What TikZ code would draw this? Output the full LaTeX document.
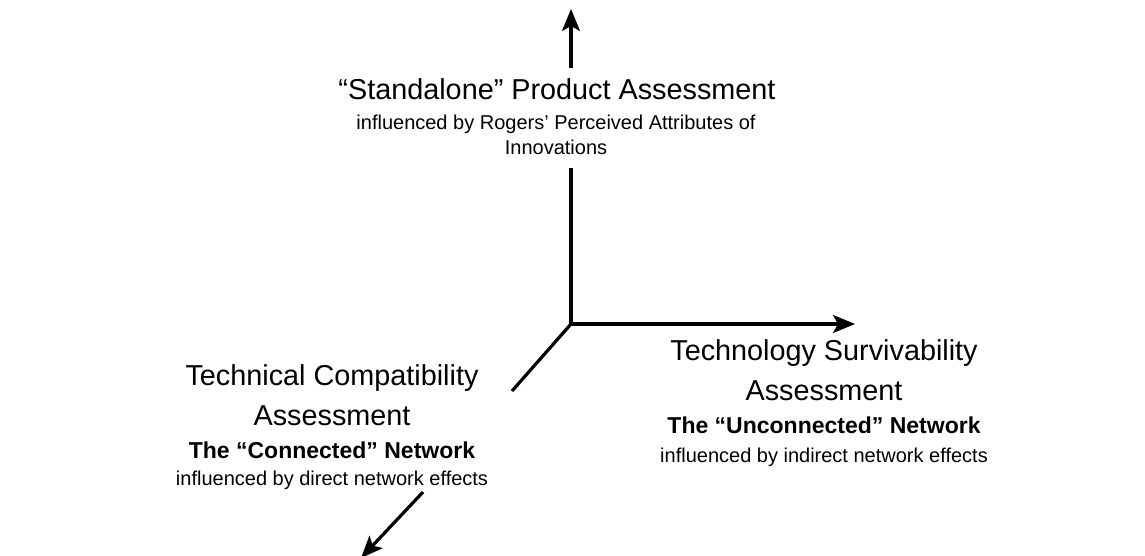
\documentclass[tikz,border=0pt]{standalone}
\usepackage{fontspec}
\setmainfont{Liberation Sans}
\usetikzlibrary{arrows.meta,positioning}

\tikzset{
  axis/.style={line width=1.6pt},
  axisarrow/.style={axis,-{Stealth[length=11pt,width=9pt,inset=2.5pt]}},
  headline/.style={anchor=base,inner sep=0pt,font=\fontsize{14.4}{17}\selectfont},
  netline/.style={anchor=base,inner sep=0pt,font=\bfseries\fontsize{11.5}{14}\selectfont},
  noteline/.style={anchor=base,inner sep=0pt,font=\fontsize{10}{12}\selectfont},
}

\begin{document}
\begin{tikzpicture}[x=0.5pt,y=-0.5pt]
\useasboundingbox (0,0) rectangle (1145,556);

% axis end points
\coordinate (origin) at (571,324);
\coordinate (ytop) at (571,9);
\coordinate (ylow) at (571,68);
\coordinate (yhigh) at (571,168);
\coordinate (xtip) at (855,324);
\coordinate (zhigh) at (512,391);
\coordinate (zlow) at (423,492);
\coordinate (ztip) at (361,558);

% "standalone" block
\node[headline] (stand) at (557,100) {“Standalone” Product Assessment};
\node[noteline] (standnote) at (556,130) {influenced by Rogers' Perceived Attributes of};
\node[noteline] (standnote2) at (556,155) {Innovations};

% compatibility block
\node[headline] (compat) at (332,385) {Technical Compatibility};
\node[headline] (compat2) at (332,425) {Assessment};
\node[netline] (compatnet) at (332,458) {The “Connected” Network};
\node[noteline] (compatnote) at (332,485) {influenced by direct network effects};

% survivability block
\node[headline] (surv) at (824,360) {Technology Survivability};
\node[headline] (surv2) at (824,400) {Assessment};
\node[netline] (survnet) at (824,433) {The “Unconnected” Network};
\node[noteline] (survnote) at (824,462) {influenced by indirect network effects};

% axes
\draw[axis] (origin) -- (yhigh);
\draw[axisarrow] (ylow) -- (ytop);
\draw[axisarrow] (origin) -- (xtip);
\draw[axis] (origin) -- (zhigh);
\draw[axisarrow] (zlow) -- (ztip);
\end{tikzpicture}
\end{document}
